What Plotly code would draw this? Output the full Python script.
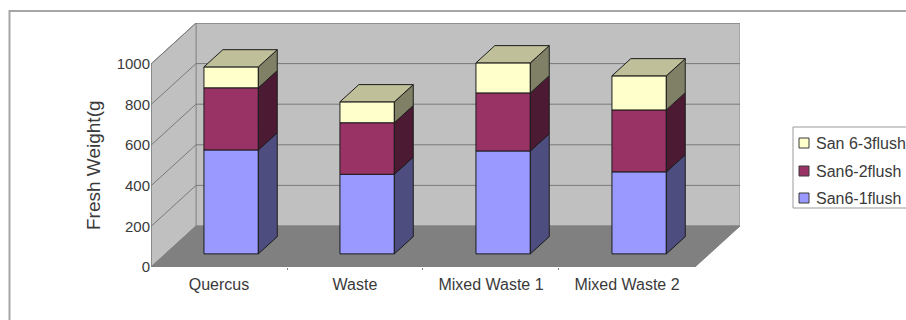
import plotly.graph_objects as go

# Chart data
categories = ["Quercus", "Waste", "Mixed Waste 1", "Mixed Waste 2"]
flush_1 = [512, 392, 507, 404]
flush_2 = [306, 254, 286, 305]
flush_3 = [103, 103, 148, 168]
series_names = ["San6-1flush", "San6-2flush", "San 6-3flush"]
y_ticks = [0, 200, 400, 600, 800, 1000]

# Face colours for each series: front, side, top
front_colors = ["#9999FF", "#993366", "#FFFFCC"]
side_colors = ["#4D4D80", "#4D1A33", "#808066"]
top_color = "#BFBF99"
edge = "#1c1c1c"
text_color = "#3a3a3a"
FONT = "Liberation Sans"

# Oblique projection: how far the full chart depth shifts x (categories) and y (value units)
DEPTH_X = 0.331
DEPTH_Y = 202
Y_MAX = 1000
BAR_WIDTH = 0.4
BAR_NEAR_X, BAR_FAR_X = 0.27, 0.69
BAR_NEAR_Y, BAR_FAR_Y = 0.32, 0.74

W, H = 906, 320
M_L, M_R, M_T, M_B = 151, 166, 23, 53
X_MIN, X_MAX = -0.5, len(categories) - 0.5


def px_x(p):
    return (p - M_L) / (W - M_L - M_R)


def px_y(p):
    return 1 - (p - M_T) / (H - M_T - M_B)


def poly(points):
    return "M " + " L ".join(f"{x},{y}" for x, y in points) + " Z"


def line(points):
    return "M " + " L ".join(f"{x},{y}" for x, y in points)


shapes = []
back_l, back_r = X_MIN + DEPTH_X, X_MAX + DEPTH_X

# Back wall, side wall and floor
shapes.append(dict(type="path", xref="x", yref="y", layer="below", fillcolor="#C0C0C0",
                   line=dict(color="#8c8c8c", width=1),
                   path=poly([(back_l, DEPTH_Y), (back_r, DEPTH_Y),
                              (back_r, Y_MAX + DEPTH_Y), (back_l, Y_MAX + DEPTH_Y)])))
shapes.append(dict(type="path", xref="x", yref="y", layer="below", fillcolor="#C0C0C0",
                   line=dict(color="#8c8c8c", width=1),
                   path=poly([(X_MIN, 0), (back_l, DEPTH_Y),
                              (back_l, Y_MAX + DEPTH_Y), (X_MIN, Y_MAX)])))
shapes.append(dict(type="path", xref="x", yref="y", layer="below", fillcolor="#808080",
                   line=dict(color="#808080", width=1),
                   path=poly([(X_MIN, 0), (X_MAX, 0), (back_r, DEPTH_Y), (back_l, DEPTH_Y)])))

# Gridlines wrap from the front axis over the side wall and along the back wall
for v in y_ticks[1:]:
    shapes.append(dict(type="path", xref="x", yref="y", layer="below",
                       line=dict(color="#7a7a7a", width=1),
                       path=line([(X_MIN, v), (back_l, v + DEPTH_Y), (back_r, v + DEPTH_Y)])))

# Front value axis line
shapes.append(dict(type="path", xref="x", yref="y", layer="below",
                   line=dict(color="#808080", width=1.5),
                   path=line([(X_MIN, 0), (X_MIN, Y_MAX)])))

# Outer chart frame, running off the right and bottom edges
shapes.append(dict(type="rect", xref="paper", yref="paper", layer="below",
                   x0=px_x(9.5), x1=px_x(930), y0=px_y(340), y1=px_y(11),
                   line=dict(color="#a6a6a6", width=2)))

fig = go.Figure()

# Front faces are real bars, lifted and shifted to their place in depth
stacks = [flush_1, flush_2, flush_3]
near_dx, near_dy = BAR_NEAR_X * DEPTH_X, BAR_NEAR_Y * DEPTH_Y
far_dx, far_dy = BAR_FAR_X * DEPTH_X, BAR_FAR_Y * DEPTH_Y
positions = list(range(len(categories)))

bottoms = [0] * len(categories)
for name, values, color, side in zip(series_names, stacks, front_colors, side_colors):
    fig.add_trace(go.Bar(
        x=[p + near_dx for p in positions],
        y=values,
        base=[b + near_dy for b in bottoms],
        width=BAR_WIDTH,
        name=name,
        marker=dict(color=color, line=dict(color=edge, width=1)),
        showlegend=False,
    ))
    # Right-hand side face of each segment
    for p, b, v in zip(positions, bottoms, values):
        xr = p + near_dx + BAR_WIDTH / 2
        xs = xr + far_dx - near_dx
        fig.add_trace(go.Scatter(
            x=[xr, xs, xs, xr, xr],
            y=[b + near_dy, b + far_dy, b + v + far_dy, b + v + near_dy, b + near_dy],
            mode="lines", fill="toself", fillcolor=side,
            line=dict(color=edge, width=1), hoverinfo="skip", showlegend=False,
        ))
    bottoms = [b + v for b, v in zip(bottoms, values)]

# Top cap of each stack
for p, total in zip(positions, bottoms):
    xl = p + near_dx - BAR_WIDTH / 2
    xr = p + near_dx + BAR_WIDTH / 2
    shift = far_dx - near_dx
    fig.add_trace(go.Scatter(
        x=[xl, xr, xr + shift, xl + shift, xl],
        y=[total + near_dy, total + near_dy, total + far_dy, total + far_dy, total + near_dy],
        mode="lines", fill="toself", fillcolor=top_color,
        line=dict(color=edge, width=1), hoverinfo="skip", showlegend=False,
    ))

annotations = [dict(
    text="Fresh Weight(g", textangle=-90, showarrow=False,
    xref="paper", yref="paper", x=px_x(93), y=px_y(165),
    xanchor="center", yanchor="middle",
    font=dict(family=FONT, size=19, color=text_color),
)]

# Legend box with the newest flush on top
shapes.append(dict(type="rect", xref="paper", yref="paper",
                   x0=px_x(793), x1=px_x(930), y0=px_y(208), y1=px_y(127),
                   fillcolor="white", line=dict(color="#9a9a9a", width=1)))
legend_rows = [143, 171, 198]
for row, idx in zip(legend_rows, [2, 1, 0]):
    shapes.append(dict(type="rect", xref="paper", yref="paper",
                       x0=px_x(799), x1=px_x(809), y0=px_y(row + 5), y1=px_y(row - 5),
                       fillcolor=front_colors[idx], line=dict(color="#3a3a3a", width=1)))
    annotations.append(dict(
        text=series_names[idx], showarrow=False, xref="paper", yref="paper",
        x=px_x(814), y=px_y(row), xanchor="left", yanchor="middle",
        font=dict(family=FONT, size=16, color=text_color),
    ))

fig.update_layout(
    width=W, height=H,
    margin=dict(l=M_L, r=M_R, t=M_T, b=M_B, pad=0),
    paper_bgcolor="white", plot_bgcolor="white",
    barmode="overlay",
    showlegend=False,
    shapes=shapes,
    annotations=annotations,
    font=dict(family=FONT, color=text_color),
    xaxis=dict(
        range=[X_MIN, X_MAX + DEPTH_X],
        tickmode="array", tickvals=positions, ticktext=categories,
        ticks="", showgrid=False, zeroline=False, showline=False,
        tickfont=dict(family=FONT, size=16, color=text_color),
        ticklabelstandoff=6,
        minor=dict(tickmode="array", tickvals=[0.5, 1.5, 2.5], ticks="outside",
                   ticklen=2, tickcolor="#808080", showgrid=False),
    ),
    yaxis=dict(
        range=[0, Y_MAX + DEPTH_Y],
        tickmode="array", tickvals=y_ticks,
        ticks="", showgrid=False, zeroline=False, showline=False,
        tickfont=dict(family=FONT, size=15, color=text_color),
        ticklabelstandoff=0,
    ),
)

fig.write_html("out.html", config=dict(displayModeBar=False))
